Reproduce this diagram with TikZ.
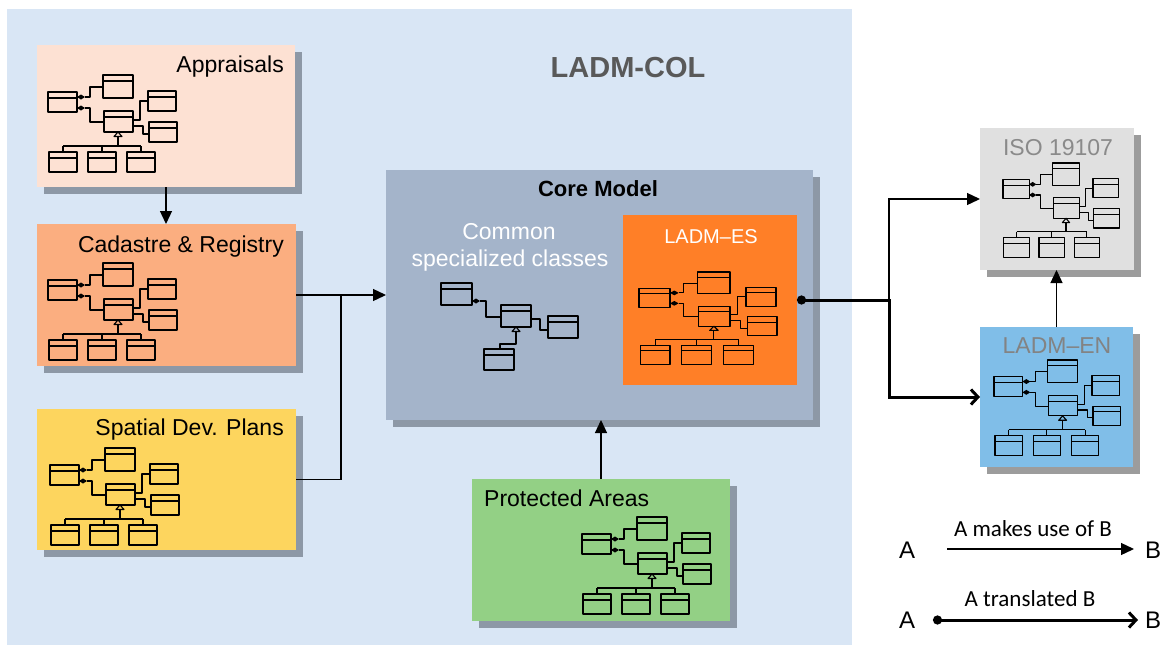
\documentclass[tikz,border=0pt]{standalone}
\usepackage{fontspec}
\setmainfont{Liberation Sans}
\newfontfamily\legfont{Carlito}
\usetikzlibrary{arrows.meta,shadows}
\definecolor{panelc}{HTML}{D9E6F5}
\definecolor{apprc}{HTML}{FDE1D3}
\definecolor{cadc}{HTML}{FBAE80}
\definecolor{spatc}{HTML}{FDD55E}
\definecolor{corec}{HTML}{A4B4CA}
\definecolor{esc}{HTML}{FF7F27}
\definecolor{protc}{HTML}{93D085}
\definecolor{isoc}{HTML}{E0E0E0}
\definecolor{enc}{HTML}{80BEE8}
\definecolor{shadc}{HTML}{8D98A6}
\definecolor{shadw}{HTML}{9C9C9C}
\definecolor{titlec}{HTML}{595959}
\definecolor{greyt}{HTML}{8A8A8A}
\newcommand\umlcls[4]{\draw (#1,#2) rectangle ++(#3,#4); \draw (#1,#2+6) -- ++(#3,0);}
\tikzset{
  umlicon/.pic={
    \begin{scope}[line width=1.1pt, line join=round]
    \umlcls{0}{17}{29}{20}
    \umlcls{55}{0}{30}{23}
    \umlcls{56}{36}{29}{21}
    \umlcls{100}{16}{28}{20}
    \umlcls{101}{47}{28}{20}
    \umlcls{1}{77}{28}{20}
    \umlcls{40}{77}{28}{20}
    \umlcls{79}{77}{28}{20}
    \fill (29,22) -- (33,19.5) -- (37,22) -- (33,24.5) -- cycle;
    \fill (29,33) -- (33,30.5) -- (37,33) -- (33,35.5) -- cycle;
    \draw (37,22) -- (42,22) -- (42,12) -- (55,12);
    \draw (37,33) -- (42,33) -- (42,47) -- (56,47);
    \draw (85,45) -- (92,45) -- (92,26) -- (100,26);
    \draw (85,51) -- (95,51) -- (95,59) -- (101,59);
    \draw (70,57) -- (66,61.5) -- (74,61.5) -- cycle;
    \draw (70,61.5) -- (70,71) (15,71) -- (93,71);
    \draw (15,71) -- (15,77) (54,71) -- (54,77) (93,71) -- (93,77);
    \end{scope}
  },
  box/.style={anchor=north west, inner sep=0pt, outer sep=0pt,
    drop shadow={shadow xshift=7pt, shadow yshift=-7pt, fill=shadc, opacity=1}},
  boxw/.style={anchor=north west, inner sep=0pt, outer sep=0pt,
    drop shadow={shadow xshift=7pt, shadow yshift=-7pt, fill=shadw, opacity=1}},
  ttl/.style={inner sep=0pt, font=\fontsize{23}{27}\selectfont},
  uses/.style={line width=1.3pt, -{Triangle[length=13pt,width=12pt]}},
  transl/.style={line width=3pt, {Circle[length=9pt]}-{Straight Barb[length=7pt,width=15pt]}},
  leg/.style={inner sep=0pt, font=\legfont\fontsize{23}{27}\selectfont},
  legab/.style={inner sep=0pt, font=\fontsize{24}{28}\selectfont},
}
\begin{document}
\begin{tikzpicture}[x=1pt,y=-1pt]
\useasboundingbox (0,0) rectangle (1165,646);
\fill[white] (0,0) rectangle (1165,646);
\node[anchor=north west, inner sep=0pt, fill=panelc, minimum width=845pt, minimum height=636pt] (panel) at (7,9) {};
\node[inner sep=0pt, anchor=base, text=titlec, font=\bfseries\fontsize{29}{33}\selectfont] (coltitle) at (628,77) {LADM-COL};

% boxes
\node[box, fill=apprc, minimum width=258pt, minimum height=142pt] (appr) at (37,45) {};
\node[box, fill=cadc, minimum width=259pt, minimum height=142pt] (cad) at (37,224) {};
\node[box, fill=spatc, minimum width=259pt, minimum height=141pt] (spat) at (37,409) {};
\node[box, fill=corec, minimum width=427pt, minimum height=250pt] (core) at (386,170) {};
\node[anchor=north west, inner sep=0pt, outer sep=0pt, fill=esc, minimum width=174pt, minimum height=170pt] (es) at (623,215) {};
\node[box, fill=protc, minimum width=258pt, minimum height=142pt] (prot) at (472,479) {};
\node[boxw, fill=isoc, minimum width=154pt, minimum height=142pt] (iso) at (980,128) {};
\node[boxw, fill=enc, minimum width=153pt, minimum height=140pt] (en) at (980,327) {};

% titles
\node[ttl, anchor=base east] (apprt) at (284,72) {Appraisals};
\node[ttl, anchor=base east] (cadt) at (284,252) {Cadastre \& Registry};
\node[ttl, anchor=base east] (spatt) at (284,435) {Spatial Dev. Plans};
\node[inner sep=0pt, anchor=base, font=\bfseries\fontsize{22}{26}\selectfont] (coret) at (598,196) {Core Model};
\node[ttl, anchor=base, text=white] (comt1) at (509,239) {Common};
\node[ttl, anchor=base, text=white] (comt2) at (510,266) {specialized classes};
\node[inner sep=0pt, anchor=base, text=white, font=\fontsize{20}{24}\selectfont] (est) at (711,243) {LADM--ES};
\node[ttl, anchor=base west] (prott) at (484,506) {Protected Areas};
\node[ttl, anchor=base, text=greyt] (isot) at (1058,155) {ISO 19107};
\node[ttl, anchor=base, text=greyt!95!black] (ent) at (1057,353) {LADM--EN};

% icons
\pic at (48,75) {umlicon};
\pic at (48,263) {umlicon};
\pic at (50,448) {umlicon};
\pic at (582,517) {umlicon};
\pic[xscale=1.07,yscale=0.95] at (639,272) {umlicon};
\pic[xscale=0.9,yscale=0.97] at (1003,163) {umlicon};
\pic[xscale=0.98,yscale=0.98] at (994,360) {umlicon};

% common specialized classes icon
\begin{scope}[line width=1.1pt, line join=round]
\umlcls{441}{283}{31}{22}
\umlcls{501}{305}{30}{22}
\umlcls{548}{316}{30}{22}
\umlcls{484}{349}{30}{21}
\fill (472,301) -- (476,298.5) -- (480,301) -- (476,303.5) -- cycle;
\draw (480,301) -- (486,301) -- (486,317) -- (501,317);
\draw (531,319) -- (540,319) -- (540,330) -- (548,330);
\draw (516,327) -- (512,331.5) -- (520,331.5) -- cycle;
\draw (516,331.5) -- (516,344) -- (500,344) -- (500,349);
\end{scope}

% connectors
\draw[uses] (appr.south) -- (appr.south |- cad.north);
\coordinate (jl) at (341,295);
\draw[uses] (cad.east) -- (core.west);
\draw[line width=1.3pt] (spat.east) -| (jl);
\draw[uses] (prot.north) -- (prot.north |- core.south);
\coordinate (jr) at (889,300);
\draw[uses] (jr) |- (iso.west);
\draw[transl] (es.east) -- (jr) |- (en.west);
\draw[uses] (en.north) -- (en.north |- iso.south);

% legend
\node[legab, anchor=base] (la1) at (907,558) {A};
\node[legab, anchor=base] (lb1) at (1153,558) {B};
\node[leg, anchor=base] (lt1) at (1033,536) {A makes use of B};
\coordinate (l1s) at (947,549);
\coordinate (l1e) at (1134,549);
\draw[uses] (l1s) -- (l1e);
\node[legab, anchor=base] (la2) at (907,628) {A};
\node[legab, anchor=base] (lb2) at (1153,628) {B};
\node[leg, anchor=base] (lt2) at (1030,606) {A translated B};
\coordinate (l2s) at (933,620);
\coordinate (l2e) at (1138,620);
\draw[transl] (l2s) -- (l2e);
\end{tikzpicture}
\end{document}
